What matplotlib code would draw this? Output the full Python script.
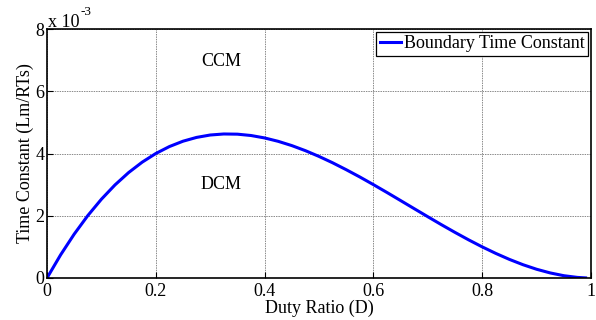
import matplotlib
matplotlib.use("Agg")
import matplotlib.pyplot as plt

duty = [0.0, 0.025, 0.05, 0.075, 0.1, 0.125, 0.15, 0.175, 0.2, 0.225, 0.25, 0.275,
        0.3, 0.325, 0.35, 0.375, 0.4, 0.425, 0.45, 0.475, 0.5, 0.525, 0.55, 0.575,
        0.6, 0.625, 0.65, 0.675, 0.7, 0.725, 0.75, 0.775, 0.8, 0.825, 0.85, 0.875,
        0.9, 0.925, 0.95, 0.975, 0.99]
tau_e3 = [0.0, 0.743, 1.410, 2.005, 2.531, 2.991, 3.387, 3.722, 4.000, 4.223, 4.395, 4.517,
          4.594, 4.627, 4.621, 4.578, 4.500, 4.391, 4.254, 4.091, 3.906, 3.702, 3.480, 3.246,
          3.000, 2.747, 2.488, 2.228, 1.969, 1.713, 1.465, 1.226, 1.000, 0.790, 0.598, 0.427,
          0.281, 0.163, 0.074, 0.019, 0.003]
x_ticks = [0, 0.2, 0.4, 0.6, 0.8, 1]
x_tick_labels = ["0", "0.2", "0.4", "0.6", "0.8", "1"]
y_ticks = [0, 2, 4, 6, 8]
y_tick_labels = ["0", "2", "4", "6", "8"]

plt.rcParams['font.family'] = ['Liberation Serif', 'DejaVu Serif']

FS = 13

fig = plt.figure(figsize=(5.96, 3.2), dpi=100)
ax = fig.add_axes([47/596, 42/320, 544/596, 249/320])

ax.plot(duty, tau_e3, color='#0000ff', lw=2.2, label='Boundary Time Constant')
ax.set_xlim(0, 1)
ax.set_ylim(0, 8)
ax.set_xticks(x_ticks)
ax.set_xticklabels(x_tick_labels)
ax.set_yticks(y_ticks)
ax.set_yticklabels(y_tick_labels)
ax.tick_params(direction='in', length=4, width=0.8, labelsize=FS)
ax.tick_params(axis='x', pad=3.5)
ax.tick_params(axis='y', pad=2)
ax.grid(True, color='#8a8a8a', lw=0.7, ls=(0, (1.5, 1)))
for s in ax.spines.values():
    s.set_linewidth(1.2)

ax.set_xlabel('Duty Ratio (D)', fontsize=FS, labelpad=0)
ax.set_ylabel('Time Constant (Lm/RTs)', fontsize=FS, labelpad=1)

ax.text(0.002, 1.009, 'x 10', transform=ax.transAxes, fontsize=FS,
        ha='left', va='baseline')
ax.text(0.061, 1.056, '-3', transform=ax.transAxes, fontsize=9.5,
        ha='left', va='baseline')

ax.text(0.32, 6.94, 'CCM', fontsize=FS, ha='center', va='center')
ax.text(0.32, 2.99, 'DCM', fontsize=FS, ha='center', va='center')

leg = ax.legend(loc='upper right', fontsize=FS, frameon=True, fancybox=False,
                edgecolor='black', framealpha=1, borderaxespad=0.15,
                handlelength=1.2, handletextpad=0.15, borderpad=0.2)
leg.get_frame().set_linewidth(0.9)

fig.savefig('out.png', dpi=100)
